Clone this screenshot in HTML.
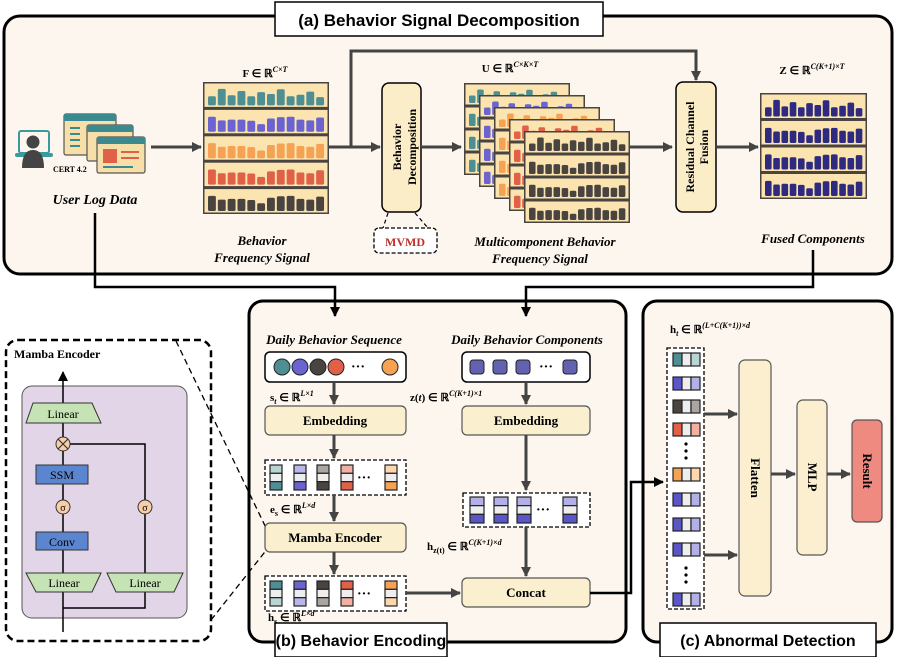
<!DOCTYPE html>
<html><head><meta charset="utf-8"><style>
html,body{margin:0;padding:0;background:#fff}
svg{display:block}
.t{font-family:"Liberation Serif",serif;font-weight:bold}
.ti{font-family:"Liberation Serif",serif;font-weight:bold;font-style:italic}
.s{font-family:"Liberation Sans",sans-serif;font-weight:bold}
</style></head><body>
<svg id="S" width="897" height="657" viewBox="0 0 897 657" xmlns="http://www.w3.org/2000/svg">
<defs>
<marker id="ah" markerWidth="10" markerHeight="10" refX="9" refY="5" orient="auto" markerUnits="userSpaceOnUse"><path d="M0,0 L10,5 L0,10 z" fill="#444"/></marker>
<marker id="ab" markerWidth="10" markerHeight="10" refX="9" refY="5" orient="auto" markerUnits="userSpaceOnUse"><path d="M0,0 L10,5 L0,10 z" fill="#000"/></marker>
</defs>
<rect x="4" y="16" width="888" height="258" rx="16" fill="#fdf6ee" stroke="#000" stroke-width="3"/>
<rect x="275" y="2" width="328" height="34" fill="#fff" stroke="#000" stroke-width="1.5"/>
<text x="439" y="26" class="s" font-size="17" text-anchor="middle">(a) Behavior Signal Decomposition</text>
<rect x="249" y="301" width="377" height="341" rx="14" fill="#fdf6ee" stroke="#000" stroke-width="3"/>
<rect x="643" y="301" width="249" height="341" rx="14" fill="#fdf6ee" stroke="#000" stroke-width="3"/>
<polyline points="95,213 95,287 335,287 335,316" fill="none" stroke="#000" stroke-width="2.5" marker-end="url(#ab)"/>
<polyline points="813,250 813,287 526,287 526,316" fill="none" stroke="#000" stroke-width="2.5" marker-end="url(#ab)"/>

<rect x="19" y="131" width="30" height="22" rx="2" fill="none" stroke="#3a9aa0" stroke-width="2"/>
<rect x="15" y="153" width="38" height="4" rx="2" fill="#3a9aa0"/>
<circle cx="33" cy="142" r="6.5" fill="#444"/>
<path d="M22,168 Q22,150 33,150 Q44,150 44,168 z" fill="#444"/>
<g id="wins"></g>
<text x="53" y="172" class="t" font-size="8">CERT 4.2</text>
<text x="95" y="204" class="ti" font-size="14" text-anchor="middle">User Log Data</text>
<line x1="151" y1="147" x2="201" y2="147" stroke="#444" stroke-width="3" marker-end="url(#ah)"/>

<g id="F"></g>
<text x="265" y="77" class="t" font-size="11" text-anchor="middle">F ∈ ℝ<tspan font-size="8" dy="-5" font-style="italic">C×T</tspan></text>
<text x="262" y="245" class="ti" font-size="13" text-anchor="middle">Behavior</text>
<text x="262" y="262" class="ti" font-size="13" text-anchor="middle">Frequency Signal</text>

<line x1="329" y1="147" x2="380" y2="147" stroke="#444" stroke-width="3" marker-end="url(#ah)"/>
<polyline points="351,147 351,51 696,51 696,80" fill="none" stroke="#444" stroke-width="3" marker-end="url(#ah)"/>
<rect x="382" y="83" width="39" height="129" rx="7" fill="#fbedc8" stroke="#000" stroke-width="1.5"/>
<text transform="translate(397,147) rotate(-90)" class="t" font-size="12" text-anchor="middle" dy="4">Behavior</text>
<text transform="translate(412,147) rotate(-90)" class="t" font-size="12" text-anchor="middle" dy="4">Decomposition</text>
<path d="M388,213 L383,228 M415,213 L428,228" stroke="#000" stroke-width="1.2" stroke-dasharray="4,3"/>
<rect x="374" y="228" width="63" height="25" rx="5" fill="#fff" stroke="#000" stroke-width="1.3" stroke-dasharray="4,2"/>
<text x="405" y="246" class="t" font-size="12" fill="#c0302a" text-anchor="middle">MVMD</text>
<line x1="421" y1="147" x2="461" y2="147" stroke="#444" stroke-width="3" marker-end="url(#ah)"/>

<g id="U"></g>
<text x="510" y="72" class="t" font-size="11" text-anchor="middle">U ∈ ℝ<tspan font-size="8" dy="-5" font-style="italic">C×K×T</tspan></text>
<text x="545" y="246" class="ti" font-size="13" text-anchor="middle">Multicomponent Behavior</text>
<text x="540" y="263" class="ti" font-size="13" text-anchor="middle">Frequency Signal</text>
<line x1="629" y1="147" x2="672" y2="147" stroke="#444" stroke-width="3" marker-end="url(#ah)"/>
<rect x="676" y="82" width="40" height="130" rx="7" fill="#fbedc8" stroke="#000" stroke-width="1.5"/>
<text transform="translate(690,147) rotate(-90)" class="t" font-size="12" text-anchor="middle" dy="4">Residual Channel</text>
<text transform="translate(704,147) rotate(-90)" class="t" font-size="12" text-anchor="middle" dy="4">Fusion</text>
<line x1="717" y1="147" x2="758" y2="147" stroke="#444" stroke-width="3" marker-end="url(#ah)"/>
<g id="Z"></g>
<text x="812" y="74" class="t" font-size="11" text-anchor="middle">Z ∈ ℝ<tspan font-size="8" dy="-5" font-style="italic">C(K+1)×T</tspan></text>
<text x="813" y="243" class="ti" font-size="13" text-anchor="middle">Fused Components</text>

<rect x="6" y="340" width="205" height="301" rx="12" fill="#fff" stroke="#000" stroke-width="2.5" stroke-dasharray="7,4"/>
<text x="14" y="358" class="t" font-size="12">Mamba Encoder</text>
<rect x="22" y="386" width="165" height="232" rx="10" fill="#e2d5e8" stroke="#555" stroke-width="1"/>
<line x1="63" y1="632" x2="63" y2="372" stroke="#000" stroke-width="1.5" marker-end="url(#ab)"/>
<polyline points="70,444 145,444 145,608 63,608" fill="none" stroke="#000" stroke-width="1.5"/>
<polygon points="33,403 92,403 101,423 26,423" fill="#c5e3b4" stroke="#333" stroke-width="1"/>
<text x="63" y="418" font-family="Liberation Serif" font-size="12" text-anchor="middle">Linear</text>
<circle cx="63" cy="444" r="7" fill="#f8cda8" stroke="#333"/>
<path d="M58,439 L68,449 M68,439 L58,449" stroke="#333" stroke-width="1.2"/>
<rect x="36" y="465" width="52" height="19" fill="#5b86cf" stroke="#333"/>
<text x="62" y="479" font-family="Liberation Serif" font-size="12" text-anchor="middle">SSM</text>
<circle cx="63" cy="507" r="7" fill="#f8cda8" stroke="#333"/>
<circle cx="145" cy="507" r="7" fill="#f8cda8" stroke="#333"/>
<text x="63" y="511" font-family="Liberation Serif" font-size="10" text-anchor="middle">σ</text>
<text x="145" y="511" font-family="Liberation Serif" font-size="10" text-anchor="middle">σ</text>
<rect x="36" y="532" width="52" height="18" fill="#5b86cf" stroke="#333"/>
<text x="62" y="546" font-family="Liberation Serif" font-size="12" text-anchor="middle">Conv</text>
<polygon points="26,573 101,573 92,592 36,592" fill="#c5e3b4" stroke="#333"/>
<text x="64" y="587" font-family="Liberation Serif" font-size="12" text-anchor="middle">Linear</text>
<polygon points="107,573 183,573 174,592 116,592" fill="#c5e3b4" stroke="#333"/>
<text x="145" y="587" font-family="Liberation Serif" font-size="12" text-anchor="middle">Linear</text>
<path d="M176,341 L268,532 M211,620 L268,548" stroke="#000" stroke-width="1.3" stroke-dasharray="6,4"/>

<text x="334" y="344" class="ti" font-size="13" text-anchor="middle">Daily Behavior Sequence</text>
<text x="527" y="344" class="ti" font-size="13" text-anchor="middle">Daily Behavior Components</text>
<rect x="265" y="352" width="141" height="30" rx="5" fill="#fff" stroke="#000" stroke-width="1.5"/>
<circle cx="282" cy="367" r="8" fill="#4e8f94" stroke="#222"/>
<circle cx="300" cy="367" r="8" fill="#6a63d0" stroke="#222"/>
<circle cx="318" cy="367" r="8" fill="#4a4440" stroke="#222"/>
<circle cx="336" cy="367" r="8" fill="#e06048" stroke="#222"/>
<text x="358" y="371" class="t" font-size="14" text-anchor="middle">···</text>
<circle cx="390" cy="367" r="8" fill="#f5a255" stroke="#222"/>
<rect x="462" y="352" width="128" height="30" rx="5" fill="#fff" stroke="#000" stroke-width="1.5"/>
<g fill="#6462b0" stroke="#222"><rect x="470" y="360" width="14" height="14" rx="3"/><rect x="493" y="360" width="14" height="14" rx="3"/><rect x="516" y="360" width="14" height="14" rx="3"/><rect x="563" y="360" width="14" height="14" rx="3"/></g>
<text x="546" y="371" class="t" font-size="14" text-anchor="middle">···</text>

<line x1="334" y1="382" x2="334" y2="404" stroke="#444" stroke-width="3" marker-end="url(#ah)"/>
<line x1="526" y1="382" x2="526" y2="404" stroke="#444" stroke-width="3" marker-end="url(#ah)"/>
<text x="270" y="401" class="t" font-size="11">s<tspan font-size="8" dy="3" font-style="italic">t</tspan><tspan dy="-3"> ∈ ℝ</tspan><tspan font-size="8" dy="-5" font-style="italic">L×1</tspan></text>
<text x="410" y="401" class="t" font-size="11">z(<tspan font-style="italic">t</tspan>) ∈ ℝ<tspan font-size="8" dy="-5" font-style="italic">C(K+1)×1</tspan></text>
<rect x="265" y="406" width="141" height="29" rx="5" fill="#faefcf" stroke="#555" stroke-width="1.2"/>
<text x="335" y="425" class="t" font-size="13" text-anchor="middle">Embedding</text>
<rect x="462" y="406" width="128" height="29" rx="5" fill="#faefcf" stroke="#555" stroke-width="1.2"/>
<text x="526" y="425" class="t" font-size="13" text-anchor="middle">Embedding</text>

<line x1="334" y1="435" x2="334" y2="458" stroke="#444" stroke-width="3" marker-end="url(#ah)"/>
<rect x="265" y="460" width="141" height="35" fill="#fff" stroke="#000" stroke-width="1.3" stroke-dasharray="4,2"/>
<g id="es"></g>
<text x="270" y="513" class="t" font-size="11">e<tspan font-size="8" dy="3">s</tspan><tspan dy="-3"> ∈ ℝ</tspan><tspan font-size="8" dy="-5" font-style="italic">L×d</tspan></text>
<line x1="334" y1="495" x2="334" y2="521" stroke="#444" stroke-width="3" marker-end="url(#ah)"/>
<rect x="265" y="523" width="141" height="29" rx="5" fill="#faefcf" stroke="#555" stroke-width="1.2"/>
<text x="335" y="542" class="t" font-size="13" text-anchor="middle">Mamba Encoder</text>
<line x1="334" y1="552" x2="334" y2="574" stroke="#444" stroke-width="3" marker-end="url(#ah)"/>
<rect x="265" y="576" width="141" height="35" fill="#fff" stroke="#000" stroke-width="1.3" stroke-dasharray="4,2"/>
<g id="hs"></g>
<text x="268" y="621" class="t" font-size="11">h<tspan font-size="8" dy="3">s</tspan><tspan dy="-3"> ∈ ℝ</tspan><tspan font-size="8" dy="-5" font-style="italic">L×d</tspan></text>
<line x1="406" y1="593" x2="460" y2="593" stroke="#444" stroke-width="3" marker-end="url(#ah)"/>

<line x1="526" y1="435" x2="526" y2="490" stroke="#444" stroke-width="3" marker-end="url(#ah)"/>
<rect x="463" y="493" width="127" height="34" fill="#fff" stroke="#000" stroke-width="1.3" stroke-dasharray="4,2"/>
<g id="hz"></g>
<text x="427" y="550" class="t" font-size="11">h<tspan font-size="8" dy="3">z(t)</tspan><tspan dy="-3"> ∈ ℝ</tspan><tspan font-size="8" dy="-5" font-style="italic">C(K+1)×d</tspan></text>
<line x1="526" y1="527" x2="526" y2="576" stroke="#444" stroke-width="3" marker-end="url(#ah)"/>
<rect x="462" y="578" width="128" height="29" rx="5" fill="#faefcf" stroke="#555" stroke-width="1.2"/>
<text x="526" y="597" class="t" font-size="13" text-anchor="middle">Concat</text>
<polyline points="590,593 631,593 631,482 663,482" fill="none" stroke="#000" stroke-width="2.5" marker-end="url(#ab)"/>

<rect x="275" y="623" width="172" height="34" fill="#fff" stroke="#000" stroke-width="1.5"/>
<text x="361" y="646" class="s" font-size="16" text-anchor="middle">(b) Behavior Encoding</text>

<text x="670" y="333" class="t" font-size="11">h<tspan font-size="8" dy="3" font-style="italic">t</tspan><tspan dy="-3"> ∈ ℝ</tspan><tspan font-size="8" dy="-5" font-style="italic">(L+C(K+1))×d</tspan></text>
<rect x="667" y="348" width="37" height="261" fill="#fff" stroke="#000" stroke-width="1.3" stroke-dasharray="4,2"/>
<g id="ht"></g>
<line x1="704" y1="414" x2="737" y2="414" stroke="#444" stroke-width="3" marker-end="url(#ah)"/>
<line x1="704" y1="555" x2="737" y2="555" stroke="#444" stroke-width="3" marker-end="url(#ah)"/>
<rect x="739" y="360" width="32" height="236" rx="6" fill="#fbefcf" stroke="#555" stroke-width="1.2"/>
<text transform="translate(755,478) rotate(90)" class="t" font-size="13" text-anchor="middle" dy="4">Flatten</text>
<line x1="771" y1="474" x2="795" y2="474" stroke="#444" stroke-width="3" marker-end="url(#ah)"/>
<rect x="797" y="400" width="30" height="155" rx="6" fill="#fbefcf" stroke="#555" stroke-width="1.2"/>
<text transform="translate(812,477) rotate(90)" class="t" font-size="13" text-anchor="middle" dy="4">MLP</text>
<line x1="827" y1="474" x2="850" y2="474" stroke="#444" stroke-width="3" marker-end="url(#ah)"/>
<rect x="852" y="420" width="30" height="102" rx="5" fill="#ee8a80" stroke="#555" stroke-width="1.2"/>
<text transform="translate(867,471) rotate(90)" class="t" font-size="13" text-anchor="middle" dy="4">Result</text>
<rect x="660" y="623" width="216" height="34" fill="#fff" stroke="#000" stroke-width="1.5"/>
<text x="768" y="646" class="s" font-size="16" text-anchor="middle">(c) Abnormal Detection</text>
</svg>
<script>
var NS="http://www.w3.org/2000/svg";
function el(p,t,a){var e=document.createElementNS(NS,t);for(var k in a)e.setAttribute(k,a[k]);p.appendChild(e);return e;}
var P1=[.5,.9,.55,.78,.5,.72,.62,.88,.5,.58,.75,.45];
var P2=[.82,.62,.66,.66,.6,.42,.72,.8,.82,.66,.62,.78];
function matrix(g,x,y,w,h,cols,n){
  var rh=h/cols.length;
  el(g,"rect",{x:x,y:y,width:w,height:h,fill:"#4a4440"});
  for(var r=0;r<cols.length;r++){
    var ry=y+r*rh;
    el(g,"rect",{x:x+1.5,y:ry+1.5,width:w-3,height:rh-3,fill:"#fbe4b0"});
    var P=r==0?P1:P2, bw=(w-8)/n;
    for(var i=0;i<n;i++){var bh=(rh-8)*P[i];
      el(g,"rect",{x:x+5+i*bw,y:ry+rh-3-bh,width:bw*0.8,height:bh,rx:1.5,fill:cols[r]});}
  }
}
var C=["#4e8f94","#6a63d0","#f5a255","#e06048","#4a4440"];
matrix(document.getElementById("F"),203,82,126,132,C,12);
var U=document.getElementById("U");
for(var k=0;k<5;k++){var c=C[k];matrix(U,464+k*15,83+k*12,106,92,[c,c,c,c],12);}
var N="#2d2a80";matrix(document.getElementById("Z"),760,93,107,106,[N,N,N,N],12);
var W=document.getElementById("wins");
[[64,114,52,41],[87,125,46,36],[97,137,48,36]].forEach(function(a,i){
  el(W,"rect",{x:a[0],y:a[1],width:a[2],height:a[3],rx:2,fill:"#f6dfa8",stroke:"#555","stroke-width":1.2});
  el(W,"rect",{x:a[0],y:a[1],width:a[2],height:7,fill:"#3a8a90"});
  if(i==2){el(W,"rect",{x:a[0]+6,y:a[1]+12,width:14,height:14,fill:"#e06048"});
    el(W,"rect",{x:a[0]+24,y:a[1]+14,width:18,height:2,fill:"#e06048"});
    el(W,"rect",{x:a[0]+24,y:a[1]+20,width:18,height:2,fill:"#e06048"});
    el(W,"rect",{x:a[0]+6,y:a[1]+29,width:30,height:2,fill:"#3a8a90"});}
  if(i==0){for(var j=0;j<4;j++)el(W,"rect",{x:a[0]+6,y:a[1]+13+j*6,width:10,height:2,fill:"#3a8a90"});}
});
function tok(g,x,y,w,h,top,mid,bot){var ch=h/3;
  [top,mid,bot].forEach(function(f,i){el(g,"rect",{x:x,y:y+i*ch,width:w,height:ch,fill:f,stroke:"#222","stroke-width":1.2});});}
var L=["#b8d4d3","#b9b6ec","#aaa5a1","#f2b0a3","#fdd6ae"],D=["#4e8f94","#6a63d0","#4a4440","#e06048","#f5a255"];
var es=document.getElementById("es"),hs=document.getElementById("hs");
var xs=[270,294,317,341,385];
for(var i=0;i<5;i++){tok(es,xs[i],465,12,25,L[i],"#eee",D[i]);tok(hs,xs[i],581,12,25,D[i],"#eee",L[i]);}
function dots(g,x,y){el(g,"text",{x:x,y:y,"font-size":14,"font-weight":"bold","text-anchor":"middle","font-family":"Liberation Serif"}).textContent="···";}
dots(es,364,482);dots(hs,364,598);
var hz=document.getElementById("hz");
[470,494,517,563].forEach(function(x){tok(hz,x,497,14,26,"#b2b0e6","#eee","#5a56c8");});
dots(hz,543,514);
var ht=document.getElementById("ht");
var rows=[[353,"#4e8f94","#b8d4d3"],[377,"#5a56c8","#b2b0e6"],[400,"#4a4440","#aaa5a1"],[423,"#e06048","#f2b0a3"],[468,"#f5a255","#fdd6ae"],[493,"#5a56c8","#b2b0e6"],[518,"#5a56c8","#b2b0e6"],[543,"#5a56c8","#b2b0e6"],[593,"#5a56c8","#b2b0e6"]];
rows.forEach(function(r){var ws=[r[1],"#eee",r[2]];for(var j=0;j<3;j++)el(ht,"rect",{x:673+j*9,y:r[0],width:9,height:13,fill:ws[j],stroke:"#222","stroke-width":1.2});});
[[444,451,458],[568,575,582]].forEach(function(a){a.forEach(function(y){el(ht,"circle",{cx:686,cy:y,r:1.6,fill:"#000"});});});
</script>
</body></html>
